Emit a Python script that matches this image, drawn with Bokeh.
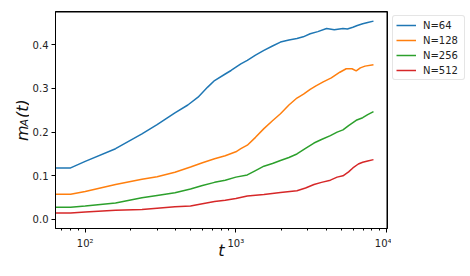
import math
from bokeh.plotting import figure
from bokeh.layouts import row
from bokeh.models import (Range1d, FixedTicker, NumeralTickFormatter, Legend,
                          LegendItem, Label, LogTicker)
from bokeh.embed import file_html
from bokeh.resources import INLINE

# ---- data ----
t_64 = [64, 80, 100, 159, 238, 300, 394, 480, 561, 650, 722, 850, 929, 1079, 1191,
        1350, 1535, 1750, 1977, 2250, 2543, 2800, 3113, 3500, 4000, 4500, 5140,
        5500, 5980, 6400, 6950, 7500, 8192]
m_64 = [0.118, 0.118, 0.133, 0.162, 0.196, 0.217, 0.244, 0.262, 0.280, 0.303, 0.318,
        0.333, 0.341, 0.356, 0.364, 0.376, 0.387, 0.397, 0.406, 0.411, 0.414, 0.418,
        0.425, 0.430, 0.437, 0.434, 0.437, 0.436, 0.440, 0.444, 0.448, 0.451, 0.454]

t_128 = [64, 80, 100, 159, 238, 300, 394, 500, 600, 722, 850, 1000, 1079, 1191, 1350,
         1535, 1750, 1977, 2250, 2543, 2812, 3113, 3400, 3800, 4300, 4900, 5400, 5900,
         6290, 6700, 7200, 8192]
m_128 = [0.058, 0.058, 0.064, 0.080, 0.092, 0.098, 0.108, 0.120, 0.130, 0.139, 0.146,
         0.155, 0.162, 0.170, 0.188, 0.208, 0.226, 0.242, 0.262, 0.278, 0.287, 0.298,
         0.306, 0.315, 0.324, 0.337, 0.345, 0.345, 0.340, 0.347, 0.351, 0.354]

t_256 = [64, 80, 100, 159, 238, 300, 394, 500, 600, 722, 850, 1000, 1191, 1350, 1535,
         1750, 1977, 2250, 2543, 2900, 3300, 3700, 4240, 4700, 5140, 5600, 6290, 6950,
         7500, 8192]
m_256 = [0.028, 0.028, 0.031, 0.038, 0.050, 0.055, 0.061, 0.070, 0.078, 0.085, 0.090,
         0.097, 0.102, 0.112, 0.122, 0.128, 0.135, 0.142, 0.150, 0.163, 0.175, 0.183,
         0.192, 0.200, 0.205, 0.215, 0.227, 0.233, 0.240, 0.247]

t_512 = [64, 80, 100, 159, 238, 300, 394, 500, 600, 722, 850, 1000, 1191, 1535, 1977,
         2543, 2900, 3300, 3700, 4240, 4700, 5140, 5600, 5980, 6500, 6950, 7500, 8192]
m_512 = [0.015, 0.015, 0.017, 0.021, 0.023, 0.026, 0.029, 0.031, 0.036, 0.041, 0.044,
         0.048, 0.054, 0.057, 0.062, 0.066, 0.072, 0.080, 0.085, 0.090, 0.097, 0.100,
         0.109, 0.118, 0.127, 0.131, 0.134, 0.137]

labels = ["N=64", "N=128", "N=256", "N=512"]
colors = ["#1f77b4", "#ff7f0e", "#2ca02c", "#d62728"]
y_ticks = [0.0, 0.1, 0.2, 0.3, 0.4]
series = [(t_64, m_64), (t_128, m_128), (t_256, m_256), (t_512, m_512)]

X_LO, X_HI = 63.5, 10150
Y_LO, Y_HI = -0.0206, 0.476

H = 276
TOP, BOTTOM = 11, 48          # frame borders (frames of the row are aligned)
QW = 29             # y-axis title strip
PW = 362            # main plot
RW = 470 - QW - PW  # legend strip

# ---------------- main plot ----------------
p = figure(width=PW, height=H, x_axis_type="log", output_backend="svg",
           toolbar_location=None, x_range=Range1d(X_LO, X_HI),
           y_range=Range1d(Y_LO, Y_HI),
           min_border_left=23, min_border_top=TOP, min_border_right=4,
           min_border_bottom=BOTTOM)
p.background_fill_color = "white"
p.border_fill_color = "white"
p.outline_line_color = "black"
p.outline_line_width = 1
p.grid.visible = False

for (tx, my), c in zip(series, colors):
    p.line(tx, my, line_color=c, line_width=1.5)

# top and right spines along the frame limits
p.segment(x0=[X_LO, X_HI], y0=[Y_HI, Y_LO], x1=[X_HI, X_HI], y1=[Y_HI, Y_HI],
          line_color="black", line_width=2)

for ax in (p.xaxis[0], p.yaxis[0]):
    ax.axis_line_color = "black"
    ax.major_tick_line_color = "black"
    ax.minor_tick_line_color = "black"
    ax.major_tick_in = 0
    ax.major_tick_out = 4
    ax.minor_tick_in = 0
    ax.minor_tick_out = 2
    ax.major_label_text_font = "DejaVu Sans"
    ax.major_label_text_font_size = "10px"
    ax.major_label_text_color = "#222222"

p.xaxis.ticker = LogTicker(num_minor_ticks=10)
p.xaxis.major_label_overrides = {100: "10²", 1000: "10³", 10000: "10⁴"}
p.xaxis.major_label_standoff = 5
p.xaxis.axis_label = "t"
p.xaxis.axis_label_text_font = "DejaVu Sans"
p.xaxis.axis_label_text_font_style = "italic"
p.xaxis.axis_label_text_font_size = "16px"
p.xaxis.axis_label_text_color = "#111111"
p.xaxis.axis_label_standoff = -11

p.yaxis.ticker = FixedTicker(ticks=y_ticks)
p.yaxis.formatter = NumeralTickFormatter(format="0.0")
p.yaxis.minor_tick_line_color = None
p.yaxis.major_label_standoff = 3

# ---------------- y-axis title strip ----------------
# its frame is aligned with the main frame, so map page rows TOP..H-BOTTOM
q = figure(width=QW, height=H, output_backend="svg", toolbar_location=None,
           x_range=Range1d(0, QW), y_range=Range1d(BOTTOM, H - TOP),
           min_border_left=0, min_border_right=0, min_border_top=TOP,
           min_border_bottom=BOTTOM, x_axis_location=None, y_axis_location=None)
q.outline_line_color = None
q.grid.visible = False
q.background_fill_color = "white"
q.border_fill_color = "white"
lab_kw = dict(angle=math.pi / 2, text_font="DejaVu Sans", text_font_style="italic",
              text_color="#111111", text_align="left", text_baseline="alphabetic")
q.add_layout(Label(x=21.7, y=H - 140.5, text="m", text_font_size="16px", **lab_kw))
q.add_layout(Label(x=23.8, y=H - 126.0, text="A", text_font_size="11px", **lab_kw))
q.add_layout(Label(x=21.7, y=H - 117.5, text="(t)", text_font_size="16px", **lab_kw))

# ---------------- legend strip ----------------
r = figure(width=RW, height=H, output_backend="svg", toolbar_location=None,
           min_border_left=0, min_border_right=0, min_border_top=TOP,
           min_border_bottom=BOTTOM, x_axis_location=None, y_axis_location=None)
r.outline_line_color = None
r.grid.visible = False
r.background_fill_color = "white"
r.border_fill_color = "white"
leg_renderers = []
for (tx, my), c in zip(series, colors):
    leg_renderers.append(r.line(tx, my, line_color=c, line_width=1.5, visible=False))

legend = Legend(items=[LegendItem(label=l, renderers=[rr]) for l, rr in zip(labels, leg_renderers)],
                location=(1, H - BOTTOM - 80))
legend.label_text_font = "DejaVu Sans"
legend.label_text_font_size = "10px"
legend.label_text_color = "#222222"
legend.glyph_width = 20
legend.glyph_height = 12
legend.label_height = 12
legend.label_width = 38
legend.spacing = 3
legend.padding = 3
legend.margin = 0
legend.label_standoff = 7
legend.border_line_color = "#cccccc"
legend.border_line_width = 1
legend.border_radius = 3
legend.background_fill_alpha = 0.8
legend.inactive_fill_alpha = 0
r.add_layout(legend, "center")

layout = row(q, p, r, spacing=0)
open("out.html", "w").write(file_html(layout, INLINE))
